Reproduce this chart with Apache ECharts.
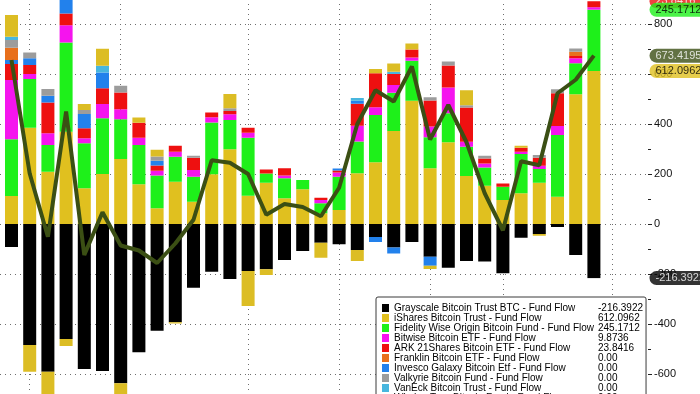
<!DOCTYPE html>
<html>
<head>
<meta charset="utf-8">
<script src="https://cdn.jsdelivr.net/npm/echarts@6/dist/echarts.min.js"></script>
<style>
  html, body { margin: 0; padding: 0; background: #fff; }
  #chart { width: 700px; height: 394px; }
</style>
</head>
<body>
<div id="chart"></div>
<script>
// ---- data ----
const categories = ['Jan 11','Jan 12','Jan 16','Jan 17','Jan 18','Jan 19','Jan 22','Jan 23','Jan 24','Jan 25','Jan 26','Jan 29','Jan 30','Jan 31','Feb 1','Feb 2','Feb 5','Feb 6','Feb 7','Feb 8','Feb 9','Feb 12','Feb 13','Feb 14','Feb 15','Feb 16','Feb 20','Feb 21','Feb 22','Feb 23','Feb 26','Feb 27','Feb 28'];
const axisPadDays = ['Feb 29', 'Mar 1'];

const grayscale = [-92,-484,-591,-460,-580,-588,-637,-513,-427,-393,-255,-191,-220,-188,-181,-144,-108,-75,-81,-104,-52,-94,-72,-131,-175,-148,-150,-197,-55,-40,-12,-124,-216.3922];
const ishares   = [112,385,209,369,143,200,260,159,63,169,89,199,299,113,165,103,139,43,56,203,247,372,493,223,327,192,153,96,123,165,109,519,612.0962];
const fidelity  = [227,195,107,357,180,223,159,157,131,100,100,207,117,232,37,80,37,40,133,127,189,153,160,124,116,117,73,53,157,55,247,124,245.1712];
const bitwise   = [237,20,47,69,20,57,40,29,19,20,27,21,23,20,0,11,0,13,17,63,31,31,13,43,103,20,16,0,9,13,36,20,9.8736];
const ark       = [64,36,123,47,40,63,67,60,21,24,49,19,13,20,16,29,0,9,8,88,136,44,32,104,88,137,20,13,16,32,131,9,23.8416];
const invesco   = [16,27,27,56,57,63,0,0,19,0,0,0,0,0,0,0,0,0,8,12,-20,-24,0,-36,0,0,0,0,0,0,0,0,0];
const franklin  = [49,0,0,0,0,0,0,0,0,0,0,0,0,0,0,0,0,0,0,0,0,0,0,0,0,0,0,0,0,0,0,17,0];
const valkyrie  = [31,23,27,0,16,0,27,0,17,0,8,0,11,0,0,0,0,0,0,0,0,0,0,13,16,9,11,0,0,11,16,13,0];
const vaneck    = [13,0,0,0,0,27,0,0,0,0,0,0,0,0,0,0,0,0,0,11,0,9,0,0,0,0,0,0,0,0,0,0,0];
const wisdomtree= [87,-107,-100,-28,24,68,-60,21,27,-5,0,0,57,-140,-23,0,0,-60,0,-44,17,33,24,-13,0,60,0,0,8,-7,0,0,0];
const totalFlow = [656,202,-51,450,-124,47,-86,-106,-156,-78,17,255,245,200,37,80,68,31,145,400,535,490,630,338,476,327,123,-25,251,235,523,577,673.4195];

const yTicks = [-800,-600,-400,-200,0,200,400,600,800];
const gridLineDays = [1,6,13,18,23,27,33];

// ---- series definitions ----
const FONT = "'Liberation Sans',Arial,sans-serif";
const funds = [
  { name: 'Grayscale Bitcoin Trust BTC - Fund Flow', data: grayscale, color: '#000000' },
  { name: 'iShares Bitcoin Trust - Fund Flow', data: ishares, color: '#e0c01f' },
  { name: 'Fidelity Wise Origin Bitcoin Fund - Fund Flow', data: fidelity, color: '#1ef01a' },
  { name: 'Bitwise Bitcoin ETF - Fund Flow', data: bitwise, color: '#f514ee' },
  { name: 'ARK 21Shares Bitcoin ETF - Fund Flow', data: ark, color: '#ee1010' },
  { name: 'Invesco Galaxy Bitcoin Etf - Fund Flow', data: invesco, color: '#2281ec' },
  { name: 'Franklin Bitcoin ETF - Fund Flow', data: franklin, color: '#e8701c' },
  { name: 'Valkyrie Bitcoin Fund - Fund Flow', data: valkyrie, color: '#9c9c9c' },
  { name: 'VanEck Bitcoin Trust - Fund Flow', data: vaneck, color: '#48b6de' },
  { name: 'WisdomTree Bitcoin Fund - Fund Flow', data: wisdomtree, color: '#dcbd24' }
];
const legendOrder = [
  'Grayscale Bitcoin Trust BTC - Fund Flow',
  'iShares Bitcoin Trust - Fund Flow',
  'Fidelity Wise Origin Bitcoin Fund - Fund Flow',
  'Bitwise Bitcoin ETF - Fund Flow',
  'ARK 21Shares Bitcoin ETF - Fund Flow',
  'Franklin Bitcoin ETF - Fund Flow',
  'Invesco Galaxy Bitcoin Etf - Fund Flow',
  'Valkyrie Bitcoin Fund - Fund Flow',
  'VanEck Bitcoin Trust - Fund Flow',
  'WisdomTree Bitcoin Fund - Fund Flow'
];
const lastVal = {};
funds.forEach(f => { lastVal[f.name] = f.data[f.data.length - 1]; });
const fmtVal = v => (v === 0 ? '0.00' : String(v));
const last = a => a[a.length - 1];

const series = funds.map(f => ({
  name: f.name,
  type: 'bar',
  stack: 'flows',
  xAxisIndex: 0, yAxisIndex: 0,
  barWidth: 13,
  itemStyle: { color: f.color },
  data: f.data,
  z: 2,
  silent: true
}));

const OLIVE = '#3b4f14';
series.push({
  name: 'Total Net Flow',
  type: 'line',
  xAxisIndex: 0, yAxisIndex: 0,
  data: totalFlow,
  symbol: 'none',
  lineStyle: { color: OLIVE, width: 4 },
  itemStyle: { color: OLIVE },
  z: 3,
  silent: true
});

// last-value tags at the right axis
const top3 = last(ishares) + last(fidelity);
const tagItems = [
  { v: top3 + last(bitwise) + last(ark), text: fmtVal(last(ark)), bg: '#ee1010', fg: '#fff' },
  { v: top3, text: fmtVal(last(fidelity)), bg: '#1ef01a', fg: '#000' },
  { v: last(ishares), text: fmtVal(last(ishares)), bg: '#e0c01f', fg: '#000' },
  { v: last(totalFlow), text: fmtVal(last(totalFlow)), bg: OLIVE, fg: '#fff' },
  { v: last(grayscale), text: fmtVal(last(grayscale)), bg: '#000', fg: '#fff' }
];
series.push({
  name: 'tags',
  type: 'scatter', z: 10, silent: true, clip: false,
  xAxisIndex: 1, yAxisIndex: 1,
  symbolSize: 1,
  itemStyle: { color: 'rgba(0,0,0,0)' },
  data: tagItems.map(t => ({
    value: [1, t.v],
    label: {
      show: true, position: 'right', distance: 1,
      formatter: t.text,
      color: t.fg, backgroundColor: t.bg,
      fontFamily: FONT, fontSize: 11, lineHeight: 12,
      padding: [1, 6, 1, 6],
      borderRadius: [7, 0, 0, 7]
    }
  }))
});

const gridCommon = { top: -26, bottom: -30, containLabel: false, outerBoundsMode: 'none' };
const DOT = { color: '#6e6e6e', type: [1, 4], width: 1 };
const chart = echarts.init(document.getElementById('chart'), null, { renderer: 'canvas' });
chart.setOption({
  animation: false,
  backgroundColor: '#ffffff',
  grid: [
    Object.assign({ left: 2.4, right: 60.6 }, gridCommon),
    Object.assign({ left: 0, right: 52 }, gridCommon),
    Object.assign({ left: 11.5, right: 69.7 }, gridCommon)
  ],
  xAxis: [
    {
      gridIndex: 0, type: 'category', data: categories.concat(axisPadDays),
      boundaryGap: true, show: false
    },
    { gridIndex: 1, type: 'value', min: 0, max: 1, show: false },
    {
      gridIndex: 2, type: 'category', data: categories.concat(axisPadDays),
      boundaryGap: false,
      axisLine: { show: false }, axisTick: { show: false }, axisLabel: { show: false },
      splitLine: {
        show: true,
        interval: (idx) => gridLineDays.indexOf(idx) >= 0,
        lineStyle: DOT
      }
    }
  ],
  yAxis: [
    {
      gridIndex: 0, type: 'value', min: -800, max: 1000, interval: 200,
      show: false, splitLine: { show: false }
    },
    {
      gridIndex: 1,
      type: 'value',
      position: 'right',
      min: -800,
      max: 1000,
      interval: 200,
      axisLine: { show: false, onZero: false },
      axisTick: { show: true, length: 4, lineStyle: { color: '#222', width: 1 } },
      minorTick: { show: true, splitNumber: 2, length: 3, lineStyle: { color: '#222' } },
      axisLabel: {
        margin: 6,
        color: '#111',
        fontFamily: FONT,
        fontSize: 11,
        formatter: v => (yTicks.indexOf(v) >= 0 ? String(v) : '')
      },
      splitLine: { show: true, lineStyle: DOT }
    },
    {
      gridIndex: 2, type: 'value', min: -800, max: 1000, interval: 200,
      show: false, splitLine: { show: false }
    }
  ],
  legend: {
    type: 'plain',
    orient: 'vertical',
    left: 376,
    top: 297,
    height: 140,
    selectedMode: false,
    data: legendOrder,
    icon: 'rect',
    itemWidth: 7,
    itemHeight: 8,
    itemGap: 0,
    padding: [6, 3, 6, 6],
    backgroundColor: '#ffffff',
    borderColor: '#3a3a3a',
    borderWidth: 1,
    borderRadius: 2,
    formatter: name => '{n|' + name + '}{v|' + fmtVal(lastVal[name]) + '}',
    textStyle: {
      color: '#000',
      fontFamily: FONT,
      fontSize: 10,
      rich: {
        n: { width: 204, fontFamily: FONT, fontSize: 10, lineHeight: 11.67, color: '#000' },
        v: { width: 44, fontFamily: FONT, fontSize: 10, lineHeight: 11.67, color: '#000' }
      }
    }
  },
  series: series
});
</script>
</body>
</html>
